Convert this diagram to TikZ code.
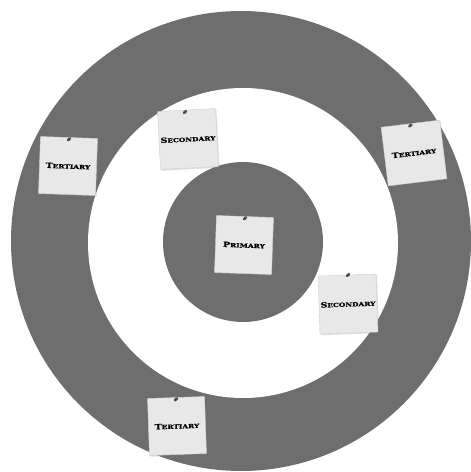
\documentclass[tikz,border=0pt]{standalone}
\usepackage{fontspec}
\newfontfamily\notefont[FakeStretch=1.3,FakeBold=0.8]{DejaVu Serif}
\usetikzlibrary{shadows,shapes.geometric}
\colorlet{ringgray}{black!57}
\colorlet{paper}{black!9}
% small caps look: big first letter, small rest
\newcommand{\notecaps}[2]{{\notefont\bfseries\fontsize{7.2}{7}\selectfont #1{\fontsize{5.7}{6}\selectfont #2}}}

\begin{document}
\begin{tikzpicture}[x=1pt,y=-1pt,
	note/.style={draw=black!18,fill=paper,minimum size=57pt,inner sep=0pt,
		drop shadow={opacity=0.25,shadow xshift=1pt,shadow yshift=-1.2pt}},
	tack/.style={ellipse,fill=black!70,minimum width=5pt,minimum height=3pt,inner sep=0pt,rotate=40}]
	\useasboundingbox (0,0) rectangle (471,472);
	\fill[white] (0,0) rectangle (471,472);
	% target rings
	\fill[ringgray] (241,241) circle (230);
	\fill[white] (243,243) circle (155);
	\fill[ringgray] (243,242) circle (80);
	% notes
	\node[note,rotate=-2] (primary) at (244,245) {\notecaps{P}{RIMARY}};
	\node[note,rotate=3,minimum size=58pt] (secA) at (188,139) {\notecaps{S}{ECONDARY}};
	\node[note,rotate=2,minimum size=58pt] (secB) at (348,304) {\notecaps{S}{ECONDARY}};
	\node[note,rotate=7,minimum size=59pt] (terA) at (414,153) {\notecaps{T}{ERTIARY}};
	\node[note,rotate=-2] (terB) at (68,166) {\notecaps{T}{ERTIARY}};
	\node[note,rotate=2] (terC) at (177,426) {\notecaps{T}{ERTIARY}};
	% pins
	\node[tack] (pinP) at ([yshift=-2pt]primary.north) {};
	\node[tack] (pinSA) at (185,112) {};
	\node[tack] (pinSB) at (348,275) {};
	\node[tack] (pinTA) at ([yshift=-2pt]terA.north) {};
	\node[tack] (pinTB) at ([yshift=-2pt]terB.north) {};
	\node[tack] (pinTC) at ([yshift=-2pt]terC.north) {};
\end{tikzpicture}
\end{document}
